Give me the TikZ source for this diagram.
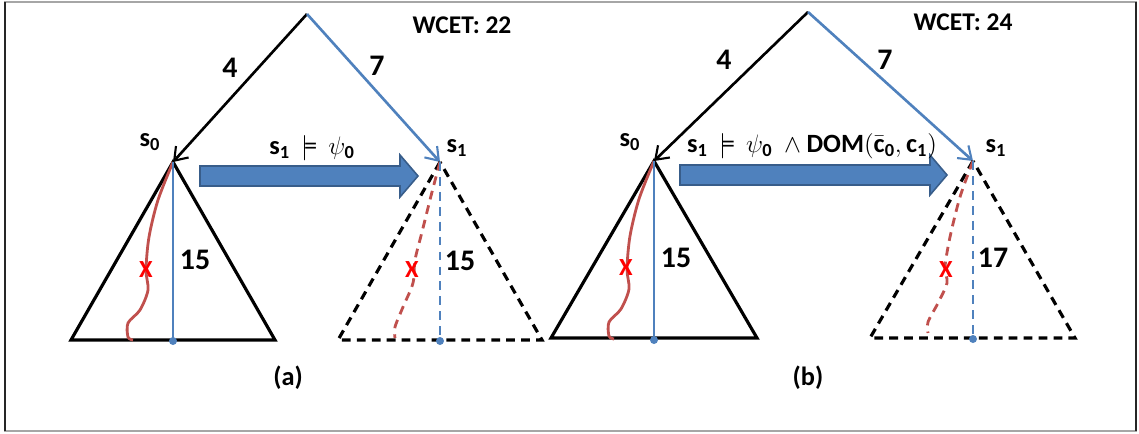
\documentclass[tikz,border=0pt]{standalone}
\usepackage{amsmath,amssymb}
\usepackage{fontspec}
\setmainfont{Carlito}
\usepackage{tikz}
\usetikzlibrary{arrows.meta}
\usetikzlibrary{calc}
\definecolor{lineblue}{HTML}{4F81BD}
\definecolor{arrowedge}{HTML}{385D8A}
\definecolor{pathred}{HTML}{C0504D}
\tikzset{
  % edge from the root down to a subtree
  treeedge/.style={line width=1.5pt,
    -{Straight Barb[length=2.4mm,width=3.4mm,line width=1.2pt]}},
  % outline of a subtree
  tri/.style={line width=1.8pt,line join=miter},
  dashtri/.style={tri,dash pattern=on 5pt off 3.5pt},
  % paths inside a subtree
  redpath/.style={pathred,line width=1.6pt},
  bluepath/.style={lineblue,line width=1.6pt},
  dashpath/.style={dash pattern=on 5pt off 3.5pt},
  % the fat arrow between subtrees
  bigarrow/.style={fill=lineblue,draw=arrowedge,line width=0.9pt,line join=miter},
  numlabel/.style={inner sep=1pt,font=\bfseries\fontsize{17}{17}\selectfont},
  statelabel/.style={inner sep=1pt,font=\bfseries\fontsize{15}{15}\selectfont},
  wcet/.style={inner sep=1pt,font=\bfseries\fontsize{14.5}{14.5}\selectfont},
  xmark/.style={inner sep=1pt,text=red,font=\bfseries\fontsize{14}{14}\selectfont},
}
\begin{document}
\begin{tikzpicture}[x=0.02cm,y=-0.02cm]
    \useasboundingbox (0,0) rectangle (1139,433);
    \draw[gray!70,line width=1.2pt] (5,2) rectangle (1136,431);
    \draw[black!85,line width=1pt] (5,2) -- (5,431) (1136,2) -- (1136,431);

    % panel (a)
    \coordinate (rootA) at (307,14);
    \coordinate (s0A) at (173,162);
    \coordinate (s1A) at (440,162);
    \draw[treeedge] (rootA) -- (s0A);
    \draw[treeedge,lineblue] (rootA) -- (s1A);
    \node[numlabel] (costA0) at (230,68) {4};
    \node[numlabel] (costA1) at (377,66) {7};
    \node[wcet] (wcetA) at (462,25) {WCET: 22};
    \node[statelabel] (labA0) at (150,142) {s$_{\textbf{0}}$};
    \node[statelabel] (labA1) at (457,148) {s$_{\textbf{1}}$};
    \path[bigarrow] (200,166) -- (400,166) -- (400,155) -- (418,176)
      -- (400,197) -- (400,186) -- (200,186) -- cycle;
    \node[statelabel] (condA) at (312,148) {s$_{\textbf{1}}\,\models\,\psi_{\textbf{0}}$};
    \begin{scope}[shift={(s0A)}]
    \draw[tri] (0,0) -- (-102,178) -- (102,178) -- cycle;
    \draw[redpath] plot[smooth] coordinates {(0,0) (-15,38) (-24,75) (-27,108)
      (-25,128) (-33,148) (-45,161) (-45,175) (-40,178)};
    \draw[bluepath] (0,0) -- (0,179);
    \fill[lineblue] (0,179) circle (4);
    \node[xmark] (xA0) at (-27,108) {X};
    \node[numlabel] (lenA0) at (22,98) {15};
    \end{scope}
    \begin{scope}[shift={(s1A)}]
    \draw[dashtri] (0,0) -- (-102,178) -- (102,178) -- cycle;
    \draw[redpath,dashpath] plot[smooth] coordinates {(0,0) (-8,30) (-18,70)
      (-25,98) (-27,121) (-37,145) (-45,165) (-45,176)};
    \draw[bluepath,dashpath] (0,0) -- (0,179);
    \fill[lineblue] (0,179) circle (4);
    \node[xmark] (xA1) at (-28,108) {X};
    \node[numlabel] (lenA1) at (20,99) {15};
    \end{scope}
    \node[statelabel] (capA) at (288,378) {(a)};

    % panel (b)
    \coordinate (rootB) at (808,12);
    \coordinate (s0B) at (654,161);
    \coordinate (s1B) at (973,161);
    \draw[treeedge] (rootB) -- (s0B);
    \draw[treeedge,lineblue] (rootB) -- (s1B);
    \node[numlabel] (costB0) at (724,60) {4};
    \node[numlabel] (costB1) at (885,60) {7};
    \node[wcet] (wcetB) at (963,22) {WCET: 24};
    \node[statelabel] (labB0) at (630,142) {s$_{\textbf{0}}$};
    \node[statelabel] (labB1) at (996,148) {s$_{\textbf{1}}$};
    \path[bigarrow] (680,165) -- (930,165) -- (930,155) -- (947,175)
      -- (930,195) -- (930,185) -- (680,185) -- cycle;
    \node[statelabel] (condB) at (812,146)
      {s$_{\textbf{1}}\,\models\,\psi_{\textbf{0}}\ \wedge\mathbf{DOM}(\bar{\mathbf{c}}_{\mathbf{0}},\mathbf{c}_{\mathbf{1}})$};
    \begin{scope}[shift={(s0B)}]
    \draw[tri] (0,0) -- (-103,177) -- (103,177) -- cycle;
    \draw[redpath] plot[smooth] coordinates {(0,0) (-15,38) (-24,75) (-27,108)
      (-25,128) (-33,148) (-45,161) (-45,175) (-40,178)};
    \draw[bluepath] (0,0) -- (0,179);
    \fill[lineblue] (0,179) circle (4);
    \node[xmark] (xB0) at (-28,107) {X};
    \node[numlabel] (lenB0) at (22,97) {15};
    \end{scope}
    \begin{scope}[shift={(s1B)}]
    \draw[dashtri] (0,0) -- (-103,177) -- (102,177) -- cycle;
    \draw[redpath,dashpath] plot[smooth] coordinates {(0,0) (-13,36) (-23,76)
      (-28,106) (-26,122) (-35,142) (-45,161) (-45,172)};
    \draw[bluepath,dashpath] (0,0) -- (0,178);
    \fill[lineblue] (0,178) circle (4);
    \node[xmark] (xB1) at (-27,109) {X};
    \node[numlabel] (lenB1) at (20,97) {17};
    \end{scope}
    \node[statelabel] (capB) at (808,378) {(b)};
\end{tikzpicture}
\end{document}
